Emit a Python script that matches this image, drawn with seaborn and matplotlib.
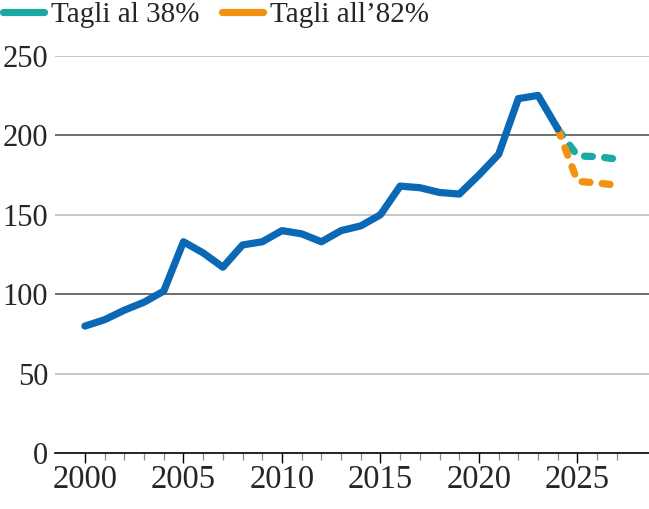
import numpy as np
import pandas as pd
import matplotlib
matplotlib.use('Agg')
import matplotlib.pyplot as plt
import seaborn as sns
from matplotlib.lines import Line2D

# Dati
anni = list(range(2000, 2025))
valori = [80, 84, 90, 95, 102, 133, 126, 117, 131, 133, 140, 138, 133,
          140, 143, 150, 168, 167, 164, 163, 175, 188, 223, 225, 204]

anni_proj = [2024, 2025, 2026, 2027]
tagli_38 = [204, 187, 186.5, 185]
tagli_82 = [204, 171, 170, 168.5]

etichette = ['Tagli al 38%', 'Tagli all\u201982%']
y_ticks = [0, 50, 100, 150, 200, 250]

blu = '#0a68b5'
verde = '#19aaa5'
arancio = '#f39110'

sns.set_style('white')
plt.rcParams['font.family'] = ['Liberation Serif', 'DejaVu Serif']

fig = plt.figure(figsize=(6.49, 5.09), dpi=100)
ax = fig.add_axes([55 / 649, 0.1094, 1 - 55 / 649, 0.7812])

# Griglia: linee alternate grigio chiaro / scuro
for i, v in enumerate(y_ticks[1:]):
    col = '#bdbdbd' if i % 2 == 0 else '#555555'
    ax.axhline(v, color=col, lw=1.2, zorder=1)

df_blu = pd.DataFrame({'anno': anni, 'valore': valori})
df_38 = pd.DataFrame({'anno': anni_proj, 'valore': tagli_38})
df_82 = pd.DataFrame({'anno': anni_proj, 'valore': tagli_82})

dash = (1.1, 1.7)
sns.lineplot(data=df_38, x='anno', y='valore', ax=ax, color=verde, lw=5.2,
             zorder=3)
sns.lineplot(data=df_82, x='anno', y='valore', ax=ax, color=arancio, lw=5.2,
             zorder=4)
for ln in ax.lines[-2:]:
    ln.set_dashes(dash)
    ln.set_dash_capstyle('round')
    ln.set_dash_joinstyle('round')
sns.lineplot(data=df_blu, x='anno', y='valore', ax=ax, color=blu, lw=5.2,
             zorder=5)
ax.lines[-1].set_solid_capstyle('round')
ax.lines[-1].set_solid_joinstyle('round')

ax.set_xlim(1998.48, 2028.63)
ax.set_ylim(0, 250)
ax.set_xlabel('')
ax.set_ylabel('')

ax.set_yticks(y_ticks)
ax.tick_params(axis='y', length=0, pad=5, labelsize=22)
ax.set_xticks([2000, 2005, 2010, 2015, 2020, 2025])
ax.set_xticks([a for a in range(2000, 2028) if a % 5 != 0], minor=True)
ax.tick_params(axis='x', which='major', direction='out', length=7.2,
               width=1, color='black', pad=1, labelsize=23.5, bottom=True)
ax.tick_params(axis='x', which='minor', direction='out', length=5,
               width=0.9, color='#888888', bottom=True)

for s in ['top', 'right', 'left']:
    ax.spines[s].set_visible(False)
ax.spines['bottom'].set_color('black')
ax.spines['bottom'].set_linewidth(1.2)

handles = [Line2D([], [], color=verde, lw=5.2, solid_capstyle='round'),
           Line2D([], [], color=arancio, lw=5.2, solid_capstyle='round')]
fig.legend(handles, etichette, loc='upper left',
           bbox_to_anchor=(0.005, 0.997), ncol=2, frameon=False,
           fontsize=21, handlelength=1.4, handletextpad=0.25,
           columnspacing=0.75, borderpad=0, borderaxespad=0)

fig.savefig('out.png', dpi=100)
